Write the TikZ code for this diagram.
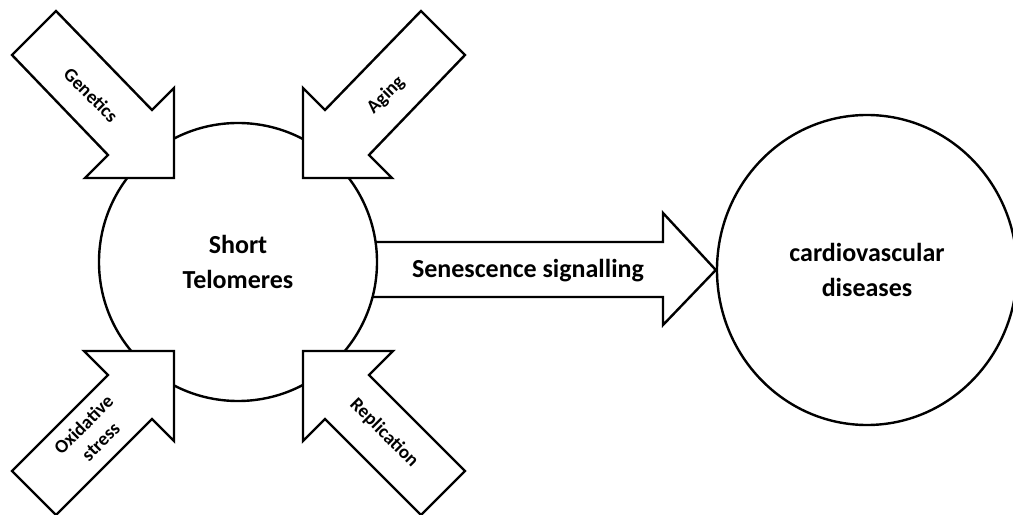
\documentclass[tikz,border=0pt]{standalone}
\usepackage{fontspec}
\setmainfont{Carlito}
\usetikzlibrary{shapes.geometric}
\begin{document}
\begin{tikzpicture}[x=1bp,y=-1bp,
  line width=2.4bp, line join=miter,
  bigtxt/.style={font=\bfseries\fontsize{26bp}{35bp}\selectfont, align=center},
  smalltxt/.style={font=\bfseries\fontsize{19bp}{24bp}\selectfont, align=center, inner sep=0},
  blockarrow/.style={draw=black, fill=white}]
\useasboundingbox (0,0) rectangle (1013,515);
% target ellipse
\node[ellipse, draw, fill=white, minimum width=300bp, minimum height=310bp, inner sep=0, bigtxt] (cvd) at (867,270) {cardiovascular\\diseases};
% senescence signalling arrow
\coordinate (sstart) at (360,242);
\draw[blockarrow] (sstart) -- (663,242) -- (663,213) -- (cvd.west) -- (663,325) -- (663,297) -- (360,297) -- cycle;
\node[bigtxt, anchor=base] (sen) at (528,278) {Senescence signalling};
% central circle
\node[circle, draw, fill=white, minimum size=278bp, inner sep=0, bigtxt] (tel) at (238,262) {Short\\Telomeres};
% incoming block arrows
\draw[blockarrow] (12,55) -- (56,11) -- (152,110) -- (174,88) -- (174,178) -- (85,178) -- (108,155) -- cycle;
\draw[blockarrow] (465,55) -- (421,11) -- (325,110) -- (303,88) -- (303,178) -- (392,178) -- (369,155) -- cycle;
\draw[blockarrow] (12,471) -- (56,515) -- (152,419) -- (174,441) -- (174,351) -- (84,351) -- (108,375) -- cycle;
\draw[blockarrow] (465,471) -- (421,515) -- (325,419) -- (303,441) -- (303,351) -- (393,351) -- (369,375) -- cycle;
% labels
\node[smalltxt, rotate=-45] (gen) at (91,95) {Genetics};
\node[smalltxt, rotate=45] (age) at (386,95) {Aging};
\node[smalltxt, rotate=45] (oxi) at (92,433) {Oxidative\\stress};
\node[smalltxt, rotate=-45] (rep) at (384,433) {Replication};
\end{tikzpicture}
\end{document}
